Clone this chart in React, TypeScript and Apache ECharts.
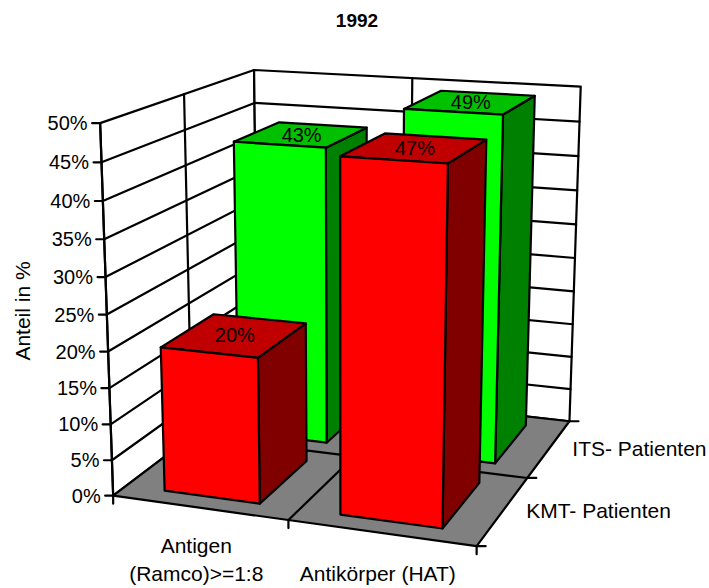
import React, { useEffect, useRef } from "react";
import * as echarts from "echarts";

// ---------- data ----------
const TITLE = "1992";
const CATEGORIES = ["Antigen\n(Ramco)>=1:8", "Antikörper (HAT)"];
const SERIES_NAMES = ["KMT- Patienten", "ITS- Patienten"]; // front row, back row
const KMT_VALUES = [20, 47];
const ITS_VALUES = [43, 49];
const VALUE_TICKS = [0, 5, 10, 15, 20, 25, 30, 35, 40, 45, 50];
const Y_MAX = 50;
const Y_AXIS_NAME = "Anteil in %";

// ---------- layout / style ----------
const FONT = '"Liberation Sans", Arial, sans-serif';
const G = { left: 10, top: 10, width: 200, height: 200 }; // hidden scale grid
const BAR_W = 0.55; // fraction of category band
const BAR_D = 0.68; // fraction of series slot
const N_SERIES = 2;
const COLORS = [
  { front: "#FF0000", top: "#C00000", side: "#800000" },
  { front: "#00FF00", top: "#00C000", side: "#008000" },
];

// frame calibration (world X,Y,Z in 0..1 -> screen px)
const FL_Y = [496, 460, 424, 388.7, 352.3, 314.3, 276.7, 239.3, 200.7, 162.7, 124];
const CAL: number[][] = [
  [0, 0, 0, 113, 496],
  [0, 1, 0, 100, 124],
  [0, 1, 1, 254, 70],
  [1, 1, 1, 580, 86],
  [1, 0, 1, 568, 422],
  [1, 0, 0, 475, 547],
  [0, 0, 1, 258, 386],
  [0.5, 0, 0, 290, 518],
  [1, 0, 0.5, 530, 478],
  [0.5, 1, 1, 413, 78],
  [0, 1, 0.5, 185, 94],
];
for (let k = 1; k < 10; k++) {
  const y = FL_Y[k];
  CAL.push([0, k / 10, 0, 113 - (13 * (496 - y)) / 372, y]);
}

function solve(A: number[][], b: number[]): number[] {
  const n = b.length;
  const M = A.map((r, i) => [...r, b[i]]);
  for (let c = 0; c < n; c++) {
    let p = c;
    for (let r = c + 1; r < n; r++) if (Math.abs(M[r][c]) > Math.abs(M[p][c])) p = r;
    [M[c], M[p]] = [M[p], M[c]];
    for (let r = 0; r < n; r++) {
      if (r === c) continue;
      const f = M[r][c] / M[c][c];
      for (let k = c; k <= n; k++) M[r][k] -= f * M[c][k];
    }
  }
  return M.map((r, i) => r[n] / r[i]);
}

function fitCamera(pts: number[][]) {
  const ATA = Array.from({ length: 11 }, () => new Array(11).fill(0));
  const ATb = new Array(11).fill(0);
  const add = (row: number[], b: number) => {
    for (let i = 0; i < 11; i++) {
      ATb[i] += row[i] * b;
      for (let j = 0; j < 11; j++) ATA[i][j] += row[i] * row[j];
    }
  };
  for (const [X, Y, Z, u, v] of pts) {
    add([X, Y, Z, 1, 0, 0, 0, 0, -u * X, -u * Y, -u * Z], u);
    add([0, 0, 0, 0, X, Y, Z, 1, -v * X, -v * Y, -v * Z], v);
  }
  return solve(ATA, ATb);
}

const CAM = fitCamera(CAL);
function P(X: number, Y: number, Z: number): number[] {
  const p = CAM;
  const w = p[8] * X + p[9] * Y + p[10] * Z + 1;
  return [
    (p[0] * X + p[1] * Y + p[2] * Z + p[3]) / w,
    (p[4] * X + p[5] * Y + p[6] * Z + p[7]) / w,
  ];
}

const LINE = { stroke: "#000", lineWidth: 2.2, lineJoin: "round", lineCap: "round" };

function poly(pts: number[][], fill: string) {
  return { type: "polygon", silent: true, shape: { points: pts }, style: { fill, ...LINE } };
}
function seg(a: number[], b: number[]) {
  return {
    type: "line",
    silent: true,
    shape: { x1: a[0], y1: a[1], x2: b[0], y2: b[1] },
    style: { ...LINE, fill: null },
  };
}
function txt(text: string, x: number, y: number, align: string, vAlign: string, extra: any = {}) {
  return {
    type: "text",
    silent: true,
    x,
    y,
    ...extra.el,
    style: {
      text,
      fill: "#000",
      fontSize: extra.fontSize || 20,
      fontFamily: FONT,
      fontWeight: extra.fontWeight || "normal",
      lineHeight: extra.lineHeight,
      align,
      textAlign: align,
      verticalAlign: vAlign,
      textVerticalAlign: vAlign,
    },
  };
}

function buildFrame() {
  const els: any[] = [];
  // walls
  els.push(poly([P(0, 0, 0), P(0, 1, 0), P(0, 1, 1), P(0, 0, 1)], "#FFFFFF"));
  els.push(poly([P(0, 0, 1), P(0, 1, 1), P(1, 1, 1), P(1, 0, 1)], "#FFFFFF"));
  for (const t of VALUE_TICKS) {
    const y = t / Y_MAX;
    if (t > 0 && t < Y_MAX) {
      els.push(seg(P(0, y, 0), P(0, y, 1)));
      els.push(seg(P(0, y, 1), P(1, y, 1)));
    }
  }
  els.push(seg(P(0, 0, 0.5), P(0, 1, 0.5)));
  els.push(seg(P(0.5, 0, 1), P(0.5, 1, 1)));
  // floor
  els.push(poly([P(0, 0, 0), P(1, 0, 0), P(1, 0, 1), P(0, 0, 1)], "#808080"));
  els.push(seg(P(0.5, 0, 0), P(0.5, 0, 1)));
  els.push(seg(P(0, 0, 0.5), P(1, 0, 0.5)));
  els.push(seg(P(0, 0, 0), P(0, 1, 0)));
  // value ticks + labels
  for (const t of VALUE_TICKS) {
    const p = P(0, t / Y_MAX, 0);
    els.push(seg([p[0] - 8, p[1]], p));
    els.push(txt(`${t}%`, p[0] - 12.5, p[1], "right", "middle"));
  }
  // category ticks + labels
  for (let i = 0; i <= CATEGORIES.length; i++) {
    const p = P(i / CATEGORIES.length, 0, 0);
    els.push(seg(p, [p[0], p[1] + 8]));
  }
  CATEGORIES.forEach((c, i) => {
    const p = P((i + 0.5) / CATEGORIES.length, 0, 0);
    els.push(txt(c, p[0] - 3, 587, "center", "bottom", { lineHeight: 28, fontSize: 21 }));
  });
  // series ticks + labels
  for (let i = 0; i <= N_SERIES; i++) {
    const p = P(1, 0, i / N_SERIES);
    els.push(seg(p, [p[0] + 9, p[1]]));
  }
  SERIES_NAMES.forEach((s, i) => {
    const p = P(1, 0, (i + 0.5) / N_SERIES);
    els.push(txt(s, p[0] + 23, p[1], "left", "middle", { fontSize: 21 }));
  });
  // title & axis name
  els.push(txt(TITLE, 357, 20, "center", "middle", { fontWeight: "bold", fontSize: 19 }));
  els.push(txt(Y_AXIS_NAME, 22, 311, "center", "middle", { el: { rotation: Math.PI / 2 }, fontSize: 21 }));
  return els;
}

function barSeries(name: string, values: number[], depthIdx: number) {
  const col = COLORS[depthIdx];
  return {
    type: "custom",
    name,
    clip: false,
    silent: true,
    data: values.map((v, i) => [i, v]),
    renderItem: (_params: any, api: any) => {
      const ci = api.value(0);
      const v = api.value(1);
      const pt = api.coord([ci, v]);
      const p0 = api.coord([ci, 0]);
      const band = api.size([1, 0])[0];
      const xc = (pt[0] - G.left) / G.width;
      const hw = ((band / G.width) * BAR_W) / 2;
      const y0 = (G.top + G.height - p0[1]) / G.height;
      const y1 = (G.top + G.height - pt[1]) / G.height;
      const slot = 1 / N_SERIES;
      const zc = (depthIdx + 0.5) * slot;
      const hd = (slot * BAR_D) / 2;
      const x0 = xc - hw, x1 = xc + hw, z0 = zc - hd, z1 = zc + hd;
      const right = [P(x1, y0, z0), P(x1, y0, z1), P(x1, y1, z1), P(x1, y1, z0)];
      const top = [P(x0, y1, z0), P(x1, y1, z0), P(x1, y1, z1), P(x0, y1, z1)];
      const front = [P(x0, y0, z0), P(x1, y0, z0), P(x1, y1, z0), P(x0, y1, z0)];
      const lp = P(xc, y1, zc);
      return {
        type: "group",
        children: [
          poly(right, col.side),
          poly(top, col.top),
          poly(front, col.front),
          {
            type: "text",
            style: {
              text: `${v}%`,
              x: lp[0],
              y: lp[1],
              fill: "#000",
              fontSize: 20,
              fontFamily: FONT,
              align: "center",
              verticalAlign: "middle",
            },
          },
        ],
      };
    },
  };
}

export default function App() {
  const ref = useRef<HTMLDivElement>(null);
  useEffect(() => {
    const chart = echarts.init(ref.current!, null, { renderer: "svg" });
    chart.setOption({
      animation: false,
      backgroundColor: "#FFFFFF",
      grid: { ...G, show: false },
      xAxis: { type: "category", data: CATEGORIES, show: false },
      yAxis: { type: "value", min: 0, max: Y_MAX, show: false },
      graphic: { elements: buildFrame() },
      series: [barSeries(SERIES_NAMES[1], ITS_VALUES, 1), barSeries(SERIES_NAMES[0], KMT_VALUES, 0)],
    });
    return () => chart.dispose();
  }, []);
  return <div ref={ref} style={{ position: "fixed", left: 0, top: 0, width: 709, height: 588 }} />;
}
